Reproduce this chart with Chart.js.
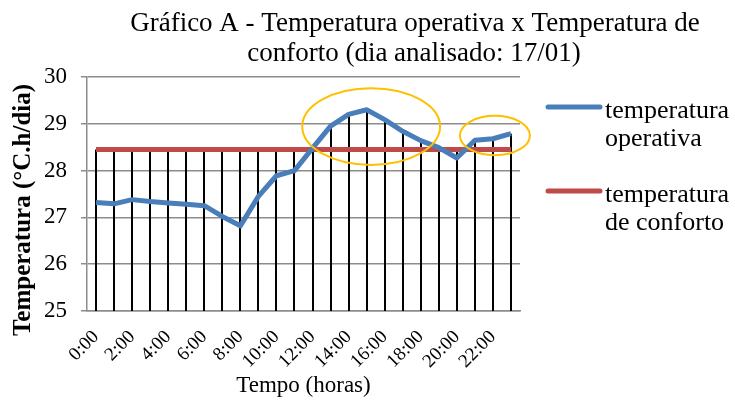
<!DOCTYPE html>
<html>
<head>
<meta charset="utf-8">
<script src="https://cdn.jsdelivr.net/npm/chart.js@4/dist/chart.umd.min.js"></script>
<style>
  body { margin: 0; background: #fff; }
  canvas { display: block; }
</style>
</head>
<body>
<canvas id="temp-canvas" width="735" height="401"></canvas>
<script>
const hours = [
  "0:00", "1:00", "2:00", "3:00", "4:00", "5:00", "6:00", "7:00",
  "8:00", "9:00", "10:00", "11:00", "12:00", "13:00", "14:00", "15:00",
  "16:00", "17:00", "18:00", "19:00", "20:00", "21:00", "22:00", "23:00",
];

const operativa = [
  27.32, 27.29, 27.38, 27.34, 27.31, 27.28, 27.25, 27.02,
  26.82, 27.45, 27.89, 28.0, 28.48, 28.95, 29.2, 29.3,
  29.09, 28.84, 28.64, 28.49, 28.27, 28.65, 28.68, 28.79,
];

const conforto = [
  28.45, 28.45, 28.45, 28.45, 28.45, 28.45, 28.45, 28.45,
  28.45, 28.45, 28.45, 28.45, 28.45, 28.45, 28.45, 28.45,
  28.45, 28.45, 28.45, 28.45, 28.45, 28.45, 28.45, 28.45,
];

const yTicks = [25, 26, 27, 28, 29, 30];

const titleLines = [
  "Gráfico A - Temperatura operativa x Temperatura de",
  "conforto (dia analisado: 17/01)",
];
const yTitle = "Temperatura (°C.h/dia)";
const xTitle = "Tempo (horas)";

// highlighted stretches: centre (hour index, °C) and half-size (hours, °C)
const highlights = [
  { hour: 15.25, temp: 28.94, hw: 3.82, hh: 0.82 },
  { hour: 22.11, temp: 28.75, hw: 1.94, hh: 0.42 },
];

const SERIF = "'Liberation Serif', 'Times New Roman', serif";
const GRID = "#8c8c8c";

// black drop lines from the axis up to the higher of the two series
const dropLines = {
  id: "dropLines",
  beforeDatasetsDraw(chart) {
    const { ctx, scales: { x, y } } = chart;
    ctx.save();
    ctx.strokeStyle = "#000";
    ctx.lineWidth = 2;
    hours.forEach((h, i) => {
      const px = Math.round(x.getPixelForValue(i));
      const top = y.getPixelForValue(Math.max(operativa[i], conforto[i]));
      ctx.beginPath();
      ctx.moveTo(px, y.getPixelForValue(y.min));
      ctx.lineTo(px, top);
      ctx.stroke();
    });
    ctx.restore();
  },
};

const highlightRings = {
  id: "highlightRings",
  afterDatasetsDraw(chart) {
    const { ctx, scales: { x, y } } = chart;
    const step = x.getPixelForValue(1) - x.getPixelForValue(0);
    ctx.save();
    ctx.strokeStyle = "#ffc000";
    ctx.lineWidth = 2;
    highlights.forEach((h) => {
      const cx = x.getPixelForValue(0) + h.hour * step;
      const cy = y.getPixelForValue(h.temp);
      const rx = h.hw * step;
      const ry = Math.abs(y.getPixelForValue(h.temp + h.hh) - cy);
      ctx.beginPath();
      ctx.ellipse(cx, cy, rx, ry, 0, 0, Math.PI * 2);
      ctx.stroke();
    });
    ctx.restore();
  },
};

// title, rotated y title and the two-line legend on the right
const annotations = {
  id: "annotations",
  afterDraw(chart) {
    const { ctx } = chart;
    ctx.save();
    ctx.fillStyle = "#000";

    ctx.font = "27px " + SERIF;
    ctx.textAlign = "center";
    ctx.textBaseline = "alphabetic";
    ctx.fillText(titleLines[0], 415, 31);
    ctx.fillText(titleLines[1], 414, 61);

    ctx.save();
    ctx.translate(24, 210);
    ctx.rotate(-Math.PI / 2);
    ctx.font = "bold 25px " + SERIF;
    ctx.textBaseline = "middle";
    ctx.fillText(yTitle, 0, 0);
    ctx.restore();

    const entries = [
      { ds: chart.data.datasets[0], lineY: 107, lines: ["temperatura", "operativa"] },
      { ds: chart.data.datasets[1], lineY: 191, lines: ["temperatura", "de conforto"] },
    ];
    ctx.textAlign = "left";
    ctx.font = "26px " + SERIF;
    entries.forEach((e) => {
      ctx.strokeStyle = e.ds.borderColor;
      ctx.lineWidth = 5;
      ctx.lineCap = "round";
      ctx.beginPath();
      ctx.moveTo(548, e.lineY);
      ctx.lineTo(600, e.lineY);
      ctx.stroke();
      e.lines.forEach((t, k) => {
        ctx.fillText(t, 605, e.lineY + 11 + k * 28);
      });
    });
    ctx.restore();
  },
};

const ctx = document.getElementById("temp-canvas").getContext("2d");

new Chart(ctx, {
  type: "line",
  data: {
    labels: hours,
    datasets: [
      {
        label: "temperatura operativa",
        data: operativa,
        borderColor: "#4a7ebb",
        borderWidth: 5,
        borderJoinStyle: "round",
        pointRadius: 0,
        tension: 0,
      },
      {
        label: "temperatura de conforto",
        data: conforto,
        borderColor: "#be4b48",
        borderWidth: 5,
        pointRadius: 0,
        tension: 0,
      },
    ],
  },
  options: {
    responsive: false,
    animation: false,
    layout: {
      padding: { top: 77, right: 215, left: 0, bottom: 0 },
    },
    plugins: {
      legend: { display: false },
      title: { display: false },
      tooltip: { enabled: false },
    },
    scales: {
      x: {
        offset: true,
        grid: { display: false },
        border: { color: GRID, width: 1.5 },
        ticks: {
          autoSkip: false,
          minRotation: 45,
          maxRotation: 45,
          padding: 7,
          color: "#000",
          font: { family: SERIF, size: 19 },
          callback: (value, index) => (index % 2 === 0 ? hours[index] : ""),
        },
        title: {
          display: true,
          text: xTitle,
          color: "#000",
          font: { family: SERIF, size: 23 },
          padding: { top: 0, bottom: 1 },
        },
        afterFit: (scale) => {
          scale.height = 90;
        },
      },
      y: {
        min: yTicks[0],
        max: yTicks[yTicks.length - 1],
        afterBuildTicks: (scale) => {
          scale.ticks = yTicks.map((v) => ({ value: v }));
        },
        grid: {
          color: GRID,
          lineWidth: 1.5,
          tickLength: 6,
          tickColor: GRID,
        },
        border: { color: GRID, width: 1.5 },
        ticks: {
          padding: 14,
          color: "#000",
          font: { family: SERIF, size: 23 },
        },
        afterFit: (scale) => {
          scale.width = 87;
        },
      },
    },
  },
  plugins: [dropLines, highlightRings, annotations],
});
</script>
</body>
</html>
